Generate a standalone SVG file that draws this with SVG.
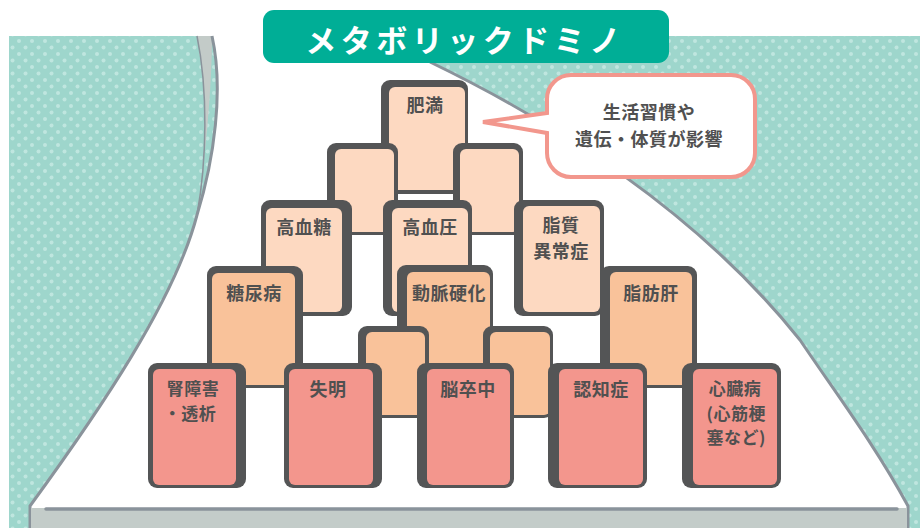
<svg xmlns="http://www.w3.org/2000/svg" width="920" height="528" viewBox="0 0 920 528">
  <defs>
    <pattern id="dots" x="0" y="0" width="13" height="13" patternUnits="userSpaceOnUse">
      <rect width="13" height="13" fill="#9ED6CC"/>
      <circle cx="6" cy="2" r="2" fill="#BFE6DF"/>
      <circle cx="12.5" cy="8.5" r="2" fill="#BFE6DF"/>
      <circle cx="-0.5" cy="8.5" r="2" fill="#BFE6DF"/>
    </pattern>
  </defs>
  <style>
    .frame { fill: #545556; }
    .c1 { fill: #FDD9C1; }
    .c2 { fill: #F9C29A; }
    .c3 { fill: #F3968D; }
    .lbl { font-family: "Noto Sans CJK JP", "Noto Sans", sans-serif; font-weight: 700; font-size: 18px; fill: #505050; text-anchor: middle; letter-spacing: 0.5px; }
    .sm { font-size: 17px; }
    .edge { fill: none; stroke: #8A939B; stroke-width: 3; }
  </style>
  <rect width="920" height="528" fill="#FFFFFF"/>
  <g id="background">
    <rect x="9" y="36" width="911" height="492" fill="url(#dots)"/>
    <path d="M 212,36 C 224,90 214,160 197,215 C 175,300 100,410 30,506 L 30,528 L 908,528 L 908,506 C 875,445 835,392 800,340 C 700,215 560,125 430,62 L 370,36 Z" fill="#FFFFFF"/>
    <path d="M 197,36 C 208,90 207,160 197,215 C 205,160 212,90 212,36 Z" fill="#C3CBC8"/>
    <path d="M 197,36 C 208,90 207,160 197,215" fill="none" stroke="#8A939B" stroke-width="1.5"/>
    <path class="edge" d="M 212,36 C 224,90 214,160 197,215 C 175,300 100,410 30,506 L 30,528"/>
    <path class="edge" d="M 430,62 C 560,125 700,215 800,340 C 835,392 875,445 908,506 L 908,528"/>
  </g>
  <g id="floor">
    <rect x="31" y="508" width="876" height="20" fill="#C3CCC9"/>
    <line x1="46" y1="509" x2="897" y2="509" stroke="#8A939B" stroke-width="3.5" stroke-linecap="round"/>
  </g>
  <g id="title">
    <rect x="263" y="10" width="406" height="53" rx="11" fill="#00AE96"/>
    <text x="465" y="52" font-family="Noto Sans CJK JP, Noto Sans, sans-serif" font-weight="700" font-size="31" fill="#FFFFFF" text-anchor="middle" letter-spacing="4.5">メタボリックドミノ</text>
  </g>
  <g id="bubble">
    <path d="M 571,75 H 731 A 24,24 0 0 1 755,99 V 153 A 24,24 0 0 1 731,177 H 571 A 24,24 0 0 1 547,153 V 133 L 483,122 L 547,113 V 99 A 24,24 0 0 1 571,75 Z" fill="#FFFFFF" stroke="#F2978D" stroke-width="4"/>
    <text class="lbl" x="649" y="119">生活習慣や</text>
    <text class="lbl" x="649" y="146">遺伝・体質が影響</text>
  </g>
  <g id="d-himan">
    <rect class="frame" x="381" y="80" width="87" height="114" rx="9"/>
    <rect class="c1" x="389" y="87" width="76" height="103" rx="6"/>
    <text class="lbl" x="425" y="112">肥満</text>
  </g>
  <g id="d-blank-2l">
    <rect class="frame" x="327" y="143" width="71" height="92" rx="9"/>
    <rect class="c1" x="335" y="149" width="59" height="83" rx="6"/>
  </g>
  <g id="d-blank-2r">
    <rect class="frame" x="453" y="143" width="70" height="92" rx="9"/>
    <rect class="c1" x="460" y="149" width="59" height="83" rx="6"/>
  </g>
  <g id="d-koketto">
    <rect class="frame" x="261" y="200" width="91" height="116" rx="9"/>
    <rect class="c1" x="266" y="208" width="76" height="104" rx="6"/>
    <text class="lbl" x="304" y="234">高血糖</text>
  </g>
  <g id="d-koketsuatsu">
    <rect class="frame" x="383" y="200" width="89" height="116" rx="9"/>
    <rect class="c1" x="392" y="208" width="76" height="104" rx="6"/>
    <text class="lbl" x="430" y="234">高血圧</text>
  </g>
  <g id="d-shishitsu">
    <rect class="frame" x="514" y="200" width="90" height="116" rx="9"/>
    <rect class="c1" x="523" y="206" width="77" height="106" rx="6"/>
    <text class="lbl" x="561" y="232">脂質</text>
    <text class="lbl" x="561" y="258">異常症</text>
  </g>
  <g id="d-tonyobyo">
    <rect class="frame" x="207" y="266" width="96" height="122" rx="9"/>
    <rect class="c2" x="212" y="273" width="83" height="112" rx="6"/>
    <text class="lbl" x="254" y="300">糖尿病</text>
  </g>
  <g id="d-domyaku">
    <rect class="frame" x="397" y="265" width="96" height="123" rx="9"/>
    <rect class="c2" x="407" y="272" width="83" height="113" rx="6"/>
    <text class="lbl" x="449" y="300">動脈硬化</text>
  </g>
  <g id="d-shiboukan">
    <rect class="frame" x="600" y="266" width="97" height="122" rx="9"/>
    <rect class="c2" x="610" y="272" width="82" height="113" rx="6"/>
    <text class="lbl" x="651" y="300">脂肪肝</text>
  </g>
  <g id="d-blank-4l">
    <rect class="frame" x="358" y="326" width="71" height="92" rx="9"/>
    <rect class="c2" x="366" y="332" width="59" height="83" rx="6"/>
  </g>
  <g id="d-blank-4r">
    <rect class="frame" x="483" y="326" width="70" height="92" rx="9"/>
    <rect class="c2" x="490" y="332" width="60" height="83" rx="6"/>
  </g>
  <g id="d-jinshogai">
    <rect class="frame" x="148" y="363" width="98" height="125" rx="9"/>
    <rect class="c3" x="153" y="369" width="83" height="116" rx="6"/>
    <text class="lbl sm" x="193" y="395">腎障害</text>
    <text class="lbl sm" x="190" y="420">・透析</text>
  </g>
  <g id="d-shitsumei">
    <rect class="frame" x="284" y="363" width="98" height="125" rx="9"/>
    <rect class="c3" x="289" y="369" width="84" height="116" rx="6"/>
    <text class="lbl" x="328" y="396">失明</text>
  </g>
  <g id="d-nosotchu">
    <rect class="frame" x="417" y="363" width="97" height="125" rx="9"/>
    <rect class="c3" x="427" y="369" width="83" height="116" rx="6"/>
    <text class="lbl" x="468" y="396">脳卒中</text>
  </g>
  <g id="d-ninchisho">
    <rect class="frame" x="548" y="363" width="99" height="125" rx="9"/>
    <rect class="c3" x="559" y="369" width="84" height="116" rx="6"/>
    <text class="lbl" x="601" y="396">認知症</text>
  </g>
  <g id="d-shinzobyo">
    <rect class="frame" x="682" y="363" width="99" height="125" rx="9"/>
    <rect class="c3" x="693" y="369" width="84" height="116" rx="6"/>
    <text class="lbl sm" x="735" y="395">心臓病</text>
    <text class="lbl sm" x="766" y="420" style="text-anchor:end">(心筋梗</text>
    <text class="lbl sm" x="766" y="444" style="text-anchor:end">塞など)</text>
  </g>
  <g id="connectors"/>
</svg>
